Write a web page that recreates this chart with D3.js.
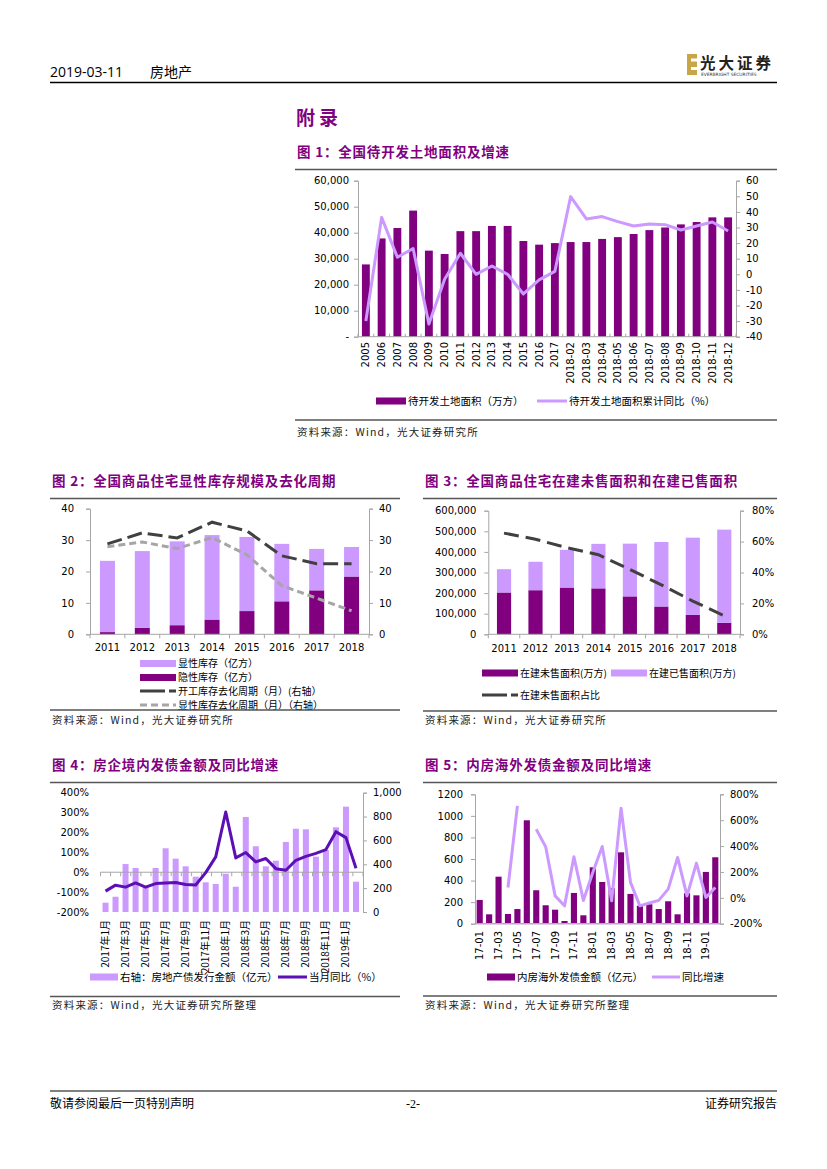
<!DOCTYPE html>
<html><head><meta charset="utf-8">
<script src="https://cdn.jsdelivr.net/npm/d3@7/dist/d3.min.js"></script>
<style>
body{margin:0;background:#fff;}
svg{display:block;}
</style></head>
<body>
<svg id="page" width="827" height="1169"></svg>
<script>
// ---------- DATA ----------
// Chart 1
const c1Cats = ["2005","2006","2007","2008","2009","2010","2011","2012","2013","2014","2015","2016","2017","2018-02","2018-03","2018-04","2018-05","2018-06","2018-07","2018-08","2018-09","2018-10","2018-11","2018-12"];
const c1Area = [27800,37800,41800,48500,33100,31800,40600,40600,42600,42600,36800,35400,36000,36400,36400,37600,38300,39500,41000,42000,43200,44100,45900,45900];
const c1Yoy = [-30,36.5,10.9,16.5,-31.8,-3.2,13.5,0,5.3,0,-12.6,-3.6,1.9,49.8,35.5,37,33.8,31,32.3,31.8,28.4,31,33.5,27.8];
const c1LeftTicks = [0,10000,20000,30000,40000,50000,60000];
const c1RightTicks = [-40,-30,-20,-10,0,10,20,30,40,50,60];

// Chart 2
const c2Cats = ["2011","2012","2013","2014","2015","2016","2017","2018"];
const c2Hidden = [0.7,2.1,2.9,4.7,7.4,10.5,14.0,18.4];      // 隐性库存
const c2Visible = [22.7,24.4,26.7,26.9,23.6,18.3,13.2,9.4];  // 显性库存 (stacked on top)
const c2CycleStart = [28.8,32.3,30.7,35.7,32.9,25.0,22.5,22.5];
const c2CycleVisible = [27.9,29.4,27.3,30.8,25.3,15.5,11.5,7.5];
const c2Ticks = [0,10,20,30,40];

// Chart 3
const c3Cats = ["2011","2012","2013","2014","2015","2016","2017","2018"];
const c3Unsold = [203000,214000,227000,223000,184000,135000,94000,56000];
const c3Sold = [113000,138000,183000,216000,256000,313000,375000,452000];
const c3Share = [65.5,61.5,56,51.5,42,32,21.5,12];
const c3LeftTicks = [0,100000,200000,300000,400000,500000,600000];
const c3RightTicks = [0,20,40,60,80];

// Chart 4
const c4Cats = ["2017年1月","2017年2月","2017年3月","2017年4月","2017年5月","2017年6月","2017年7月","2017年8月","2017年9月","2017年10月","2017年11月","2017年12月","2018年1月","2018年2月","2018年3月","2018年4月","2018年5月","2018年6月","2018年7月","2018年8月","2018年9月","2018年10月","2018年11月","2018年12月","2019年1月","2019年2月"];
const c4Amount = [78,128,402,369,212,369,534,447,383,296,249,235,321,212,796,551,383,430,587,698,693,464,520,710,883,254];
const c4Yoy = [-95,-65,-75,-54,-75,-57,-54,-52,-62,-64,-2,77,303,72,99,52,69,18,10,60,80,95,114,204,174,20];
const c4LeftTicks = [-200,-100,0,100,200,300,400];
const c4RightTicks = [0,200,400,600,800,1000];

// Chart 5
const c5Cats = ["17-01","17-02","17-03","17-04","17-05","17-06","17-07","17-08","17-09","17-10","17-11","17-12","18-01","18-02","18-03","18-04","18-05","18-06","18-07","18-08","18-09","18-10","18-11","18-12","19-01","19-02"];
const c5Amount = [220,87,436,90,136,959,310,171,130,25,285,78,523,387,330,662,276,167,180,136,208,87,282,263,480,616];
const c5Yoy = [null,null,null,80,710,null,530,394,15,-62,317,-20,196,397,-23,693,119,-62,-40,-20,67,312,15,268,3,80];
const c5LeftTicks = [0,200,400,600,800,1000,1200];
const c5RightTicks = [-200,0,200,400,600,800];

// ---------- STYLE ----------
const PURPLE = "#800080";
const LILAC = "#CC99FF";
const AXIS = "#A6A6A6";
const TXT = "#000";
const NUMF = "'DejaVu Sans', Verdana, sans-serif";
const CJK = "'Noto Sans CJK SC', sans-serif";

const svg = d3.select("#page");

// ---------- PAGE FRAME ----------
svg.append("text").attr("x",50).attr("y",77).attr("font-family","'Open Sans', "+CJK).attr("font-size",14).attr("fill","#000").text("2019-03-11");
svg.append("text").attr("x",150).attr("y",77).attr("font-family",CJK).attr("font-size",14).attr("fill","#000").text("房地产");
svg.append("line").attr("x1",50).attr("x2",777).attr("y1",82.5).attr("y2",82.5).attr("stroke","#000").attr("stroke-width",1.3);
// logo
const lg = svg.append("g");
lg.append("rect").attr("x",687).attr("y",54).attr("width",10).attr("height",21).attr("fill","#C9A54A");
lg.append("rect").attr("x",691).attr("y",58.5).attr("width",6).attr("height",3).attr("fill","#fff");
lg.append("rect").attr("x",691).attr("y",67).attr("width",6).attr("height",3).attr("fill","#fff");
lg.append("text").attr("x",700).attr("y",69).attr("font-family","'Noto Sans CJK SC'").attr("font-weight","bold").attr("font-size",15.5).attr("letter-spacing",3).attr("fill","#222").text("光大证券");
lg.append("text").attr("x",701).attr("y",75.5).attr("font-family",NUMF).attr("font-size",4.4).attr("fill","#333").text("EVERBRIGHT SECURITIES");

svg.append("text").attr("x",296).attr("y",125).attr("font-family",CJK).attr("font-weight","bold").attr("font-size",19).attr("fill",PURPLE).attr("letter-spacing",4).text("附录");

// footer
svg.append("line").attr("x1",50).attr("x2",777).attr("y1",1091).attr("y2",1091).attr("stroke","#000").attr("stroke-width",1);
svg.append("text").attr("x",50).attr("y",1108).attr("font-family",CJK).attr("font-size",12).text("敬请参阅最后一页特别声明");
svg.append("text").attr("x",413).attr("y",1108).attr("text-anchor","middle").attr("font-family","'Liberation Serif', serif").attr("font-size",12).text("-2-");
svg.append("text").attr("x",777).attr("y",1108).attr("text-anchor","end").attr("font-family",CJK).attr("font-size",12).text("证券研究报告");

// ---------- HELPERS ----------
function title(x,y,x2,t){
  svg.append("text").attr("x",x).attr("y",y).attr("font-family",CJK).attr("font-weight","bold").attr("font-size",13.5).attr("letter-spacing",0.8).attr("fill",PURPLE).text(t);
  svg.append("line").attr("x1",x-2).attr("x2",x2).attr("y1",y+12.5).attr("y2",y+12.5).attr("stroke","#555").attr("stroke-width",1.3);
}
function source(x,y,x2,lineY,t){
  svg.append("line").attr("x1",x-2).attr("x2",x2).attr("y1",lineY).attr("y2",lineY).attr("stroke","#555").attr("stroke-width",1.3);
  svg.append("text").attr("x",x).attr("y",y).attr("font-family",CJK).attr("font-size",10.5).attr("letter-spacing",1.2).attr("fill","#222").text(t);
}
function band(cats,x0,x1,p){
  return d3.scaleBand().domain(cats).range([x0,x1]).paddingInner(p).paddingOuter(p/2);
}
function yAxis(g,scale,x,side,ticks,fmt,opts={}){
  const ax = (side==="left"?d3.axisLeft(scale):d3.axisRight(scale)).tickValues(ticks).tickFormat(fmt).tickSize(opts.tick===undefined?4:opts.tick).tickPadding(opts.pad||5);
  const a = g.append("g").attr("transform",`translate(${x},0)`).call(ax);
  a.select(".domain").attr("stroke",opts.noline?"none":AXIS).attr("stroke-width",1);
  a.selectAll(".tick line").attr("stroke",AXIS);
  a.selectAll("text").attr("font-family",NUMF).attr("font-size",opts.fs||10).attr("fill",TXT);
  return a;
}
function catAxis(g,y,x0,x1,n,tickLen){
  g.append("line").attr("x1",x0).attr("x2",x1).attr("y1",y).attr("y2",y).attr("stroke",AXIS).attr("stroke-width",1);
  const st = (x1-x0)/n;
  for(let i=0;i<=n;i++){
    g.append("line").attr("x1",x0+i*st).attr("x2",x0+i*st).attr("y1",y).attr("y2",y+tickLen).attr("stroke",AXIS);
  }
}
function legRect(x,y,w,h,c,t,fs=10){
  svg.append("rect").attr("x",x).attr("y",y-h/2).attr("width",w).attr("height",h).attr("fill",c);
  svg.append("text").attr("x",x+w+2).attr("y",y+3.8).attr("font-family",CJK).attr("font-size",fs).text(t);
}
function legLine(x,y,w,c,sw,dash,t,fs=10){
  svg.append("line").attr("x1",x).attr("x2",x+w).attr("y1",y).attr("y2",y).attr("stroke",c).attr("stroke-width",sw).attr("stroke-dasharray",dash||null);
  svg.append("text").attr("x",x+w+2).attr("y",y+3.8).attr("font-family",CJK).attr("font-size",fs).text(t);
}

// ---------- CHART 1 ----------
(function(){
  title(297,157,777,"图 1：全国待开发土地面积及增速");
  const g = svg.append("g");
  const X0=358, X1=736, YT=180.7, YB=336.7;
  const x = band(c1Cats,X0,X1,0.5);
  const yl = d3.scaleLinear().domain([0,60000]).range([YB,YT]);
  const yr = d3.scaleLinear().domain([-40,60]).range([YB,YT]);
  g.selectAll(".b").data(c1Area).join("rect").attr("x",(d,i)=>x(c1Cats[i])).attr("width",x.bandwidth())
    .attr("y",d=>yl(d)).attr("height",d=>YB-yl(d)).attr("fill",PURPLE);
  catAxis(g,YB,X0,X1,c1Cats.length,-3);
  yAxis(g,yl,X0,"left",c1LeftTicks,d=>d===0?"-":d3.format(",")(d));
  yAxis(g,yr,X1,"right",c1RightTicks,d=>d,{pad:6});
  const line = d3.line().x((d,i)=>x(c1Cats[i])+x.bandwidth()/2).y(d=>yr(d));
  g.append("path").attr("d",line(c1Yoy)).attr("fill","none").attr("stroke",LILAC).attr("stroke-width",3).attr("stroke-linejoin","round");
  g.selectAll(".xl").data(c1Cats).join("text")
    .attr("transform",(d)=>`translate(${x(d)+x.bandwidth()/2+3.5},342) rotate(-90)`)
    .attr("text-anchor","end").attr("font-family",NUMF).attr("font-size",10).text(d=>d);
  legRect(376,401,30,7,PURPLE,"待开发土地面积（万方）",10.5);
  legLine(537,401,30,LILAC,3,null,"待开发土地面积累计同比（%）",10.5);
  source(297,436,777,420,"资料来源：Wind，光大证券研究所");
})();

// ---------- CHART 2 ----------
(function(){
  title(52,486,400,"图 2：全国商品住宅显性库存规模及去化周期");
  const g = svg.append("g");
  const X0=90, X1=369, YT=508.7, YB=634.3;
  const x = band(c2Cats,X0,X1,0.57);
  const y = d3.scaleLinear().domain([0,40]).range([YB,YT]);
  const cx = d=>x(d)+x.bandwidth()/2;
  g.selectAll(".h").data(c2Hidden).join("rect").attr("x",(d,i)=>x(c2Cats[i])).attr("width",x.bandwidth())
    .attr("y",d=>y(d)).attr("height",d=>YB-y(d)).attr("fill",PURPLE);
  g.selectAll(".v").data(c2Visible).join("rect").attr("x",(d,i)=>x(c2Cats[i])).attr("width",x.bandwidth())
    .attr("y",(d,i)=>y(d+c2Hidden[i])).attr("height",(d,i)=>y(c2Hidden[i])-y(d+c2Hidden[i])).attr("fill",LILAC);
  catAxis(g,YB,X0,X1,c2Cats.length,4);
  yAxis(g,y,X0,"left",c2Ticks,d=>d,{pad:12});
  yAxis(g,y,X1,"right",c2Ticks,d=>d,{pad:6});
  const line = d3.line().x((d,i)=>cx(c2Cats[i])).y(d=>y(d));
  g.append("path").attr("d",line(c2CycleVisible)).attr("fill","none").attr("stroke","#A6A6A6").attr("stroke-width",3).attr("stroke-dasharray","7,4");
  g.append("path").attr("d",line(c2CycleStart)).attr("fill","none").attr("stroke","#404040").attr("stroke-width",3).attr("stroke-dasharray","15,6");
  g.selectAll(".xl").data(c2Cats).join("text").attr("x",d=>cx(d)).attr("y",651).attr("text-anchor","middle")
    .attr("font-family",NUMF).attr("font-size",10).text(d=>d);
  legRect(140,663.5,36,7,LILAC,"显性库存（亿方）");
  legRect(140,677.5,36,7,PURPLE,"隐性库存（亿方）");
  legLine(140,691,36,"#404040",3,"25,4","开工库存去化周期（月）(右轴）");
  legLine(140,705,36,"#A6A6A6",3,"7,4","显性库存去化周期（月）（右轴）");
  source(52,724,400,710,"资料来源：Wind，光大证券研究所");
})();

// ---------- CHART 3 ----------
(function(){
  title(425,486,777,"图 3：全国商品住宅在建未售面积和在建已售面积");
  const g = svg.append("g");
  const X0=488.3, X1=740, YT=510.7, YB=634.3;
  const x = band(c3Cats,X0,X1,0.55);
  const yl = d3.scaleLinear().domain([0,600000]).range([YB,YT]);
  const yr = d3.scaleLinear().domain([0,80]).range([YB,YT]);
  const cx = d=>x(d)+x.bandwidth()/2;
  g.selectAll(".u").data(c3Unsold).join("rect").attr("x",(d,i)=>x(c3Cats[i])).attr("width",x.bandwidth())
    .attr("y",d=>yl(d)).attr("height",d=>YB-yl(d)).attr("fill",PURPLE);
  g.selectAll(".s").data(c3Sold).join("rect").attr("x",(d,i)=>x(c3Cats[i])).attr("width",x.bandwidth())
    .attr("y",(d,i)=>yl(d+c3Unsold[i])).attr("height",(d,i)=>yl(c3Unsold[i])-yl(d+c3Unsold[i])).attr("fill",LILAC);
  catAxis(g,YB,X0,X1,c3Cats.length,4);
  yAxis(g,yl,X0,"left",c3LeftTicks,d3.format(","),{pad:8});
  yAxis(g,yr,X1,"right",c3RightTicks,d=>d+"%",{pad:8});
  const line = d3.line().x((d,i)=>cx(c3Cats[i])).y(d=>yr(d));
  g.append("path").attr("d",line(c3Share)).attr("fill","none").attr("stroke","#404040").attr("stroke-width",3).attr("stroke-dasharray","15,7");
  g.selectAll(".xl").data(c3Cats).join("text").attr("x",d=>cx(d)).attr("y",652).attr("text-anchor","middle")
    .attr("font-family",NUMF).attr("font-size",10).text(d=>d);
  legRect(482,673,36,7,PURPLE,"在建未售面积(万方)");
  legRect(611,673,36,7,LILAC,"在建已售面积(万方)");
  legLine(482,695,36,"#404040",3,"25,4","在建未售面积占比");
  source(425,724,777,711,"资料来源：Wind，光大证券研究所");
})();

// ---------- CHART 4 ----------
(function(){
  title(52,770,400,"图 4：房企境内发债金额及同比增速");
  const g = svg.append("g");
  const X0=100.5, X1=361, YT=792.7, YB=912;
  const x = band(c4Cats,X0,X1,0.4);
  const yl = d3.scaleLinear().domain([-200,400]).range([YB,YT]);
  const yr = d3.scaleLinear().domain([0,1000]).range([YB,YT]);
  const cx = d=>x(d)+x.bandwidth()/2;
  g.selectAll(".b").data(c4Amount).join("rect").attr("x",(d,i)=>x(c4Cats[i])).attr("width",x.bandwidth())
    .attr("y",d=>yr(d)).attr("height",d=>YB-yr(d)).attr("fill",LILAC);
  // category axis crosses at 0%
  catAxis(g,yl(0),X0,363,c4Cats.length,4);
  yAxis(g,yl,90,"left",c4LeftTicks,d=>d+"%",{noline:true,tick:0,pad:1});
  yAxis(g,yr,363,"right",c4RightTicks,d3.format(","),{pad:6});
  const line = d3.line().x((d,i)=>cx(c4Cats[i])).y(d=>yl(d));
  g.append("path").attr("d",line(c4Yoy)).attr("fill","none").attr("stroke","#5B0FB5").attr("stroke-width",3).attr("stroke-linejoin","round");
  const labs = c4Cats.filter((d,i)=>i%2===0);
  g.selectAll(".xl").data(labs).join("text")
    .attr("transform",d=>`translate(${cx(d)+3.5},920) rotate(-90)`)
    .attr("text-anchor","end").attr("font-family",CJK).attr("font-size",10).text(d=>d);
  legRect(90,977,28,7,LILAC,"右轴：房地产债发行金额（亿元）",10.5);
  legLine(278,977,29,"#5B0FB5",3,null,"当月同比（%）",10.5);
  source(52,1009,400,996.5,"资料来源：Wind，光大证券研究所整理");
})();

// ---------- CHART 5 ----------
(function(){
  title(425,770,777,"图 5：内房海外发债金额及同比增速");
  const g = svg.append("g");
  const X0=475, X1=720, YT=794.3, YB=923.7;
  const x = band(c5Cats,X0,X1,0.35);
  const yl = d3.scaleLinear().domain([0,1200]).range([YB,YT]);
  const yr = d3.scaleLinear().domain([-200,800]).range([YB,YT]);
  const cx = d=>x(d)+x.bandwidth()/2;
  g.selectAll(".b").data(c5Amount).join("rect").attr("x",(d,i)=>x(c5Cats[i])).attr("width",x.bandwidth())
    .attr("y",d=>yl(d)).attr("height",d=>YB-yl(d)).attr("fill",PURPLE);
  g.append("line").attr("x1",X0).attr("x2",X1).attr("y1",YB).attr("y2",YB).attr("stroke","#B9A6C9").attr("stroke-width",1.5);
  yAxis(g,yl,X0,"left",c5LeftTicks,d=>d,{pad:8});
  yAxis(g,yr,X1,"right",c5RightTicks,d=>d+"%",{pad:6});
  const line = d3.line().defined(d=>d!==null).x((d,i)=>cx(c5Cats[i])).y(d=>yr(d));
  g.append("path").attr("d",line(c5Yoy)).attr("fill","none").attr("stroke",LILAC).attr("stroke-width",3).attr("stroke-linejoin","round");
  const labs = c5Cats.filter((d,i)=>i%2===0);
  g.selectAll(".xl").data(labs).join("text")
    .attr("transform",d=>`translate(${cx(d)+3.5},931) rotate(-90)`)
    .attr("text-anchor","end").attr("font-family",NUMF).attr("font-size",10).text(d=>d);
  legRect(487,977,28,7,PURPLE,"内房海外发债金额（亿元）",10.5);
  legLine(652,977,28,LILAC,3,null,"同比增速",10.5);
  source(425,1009,777,996,"资料来源：Wind，光大证券研究所整理");
})();
</script>
</body></html>
